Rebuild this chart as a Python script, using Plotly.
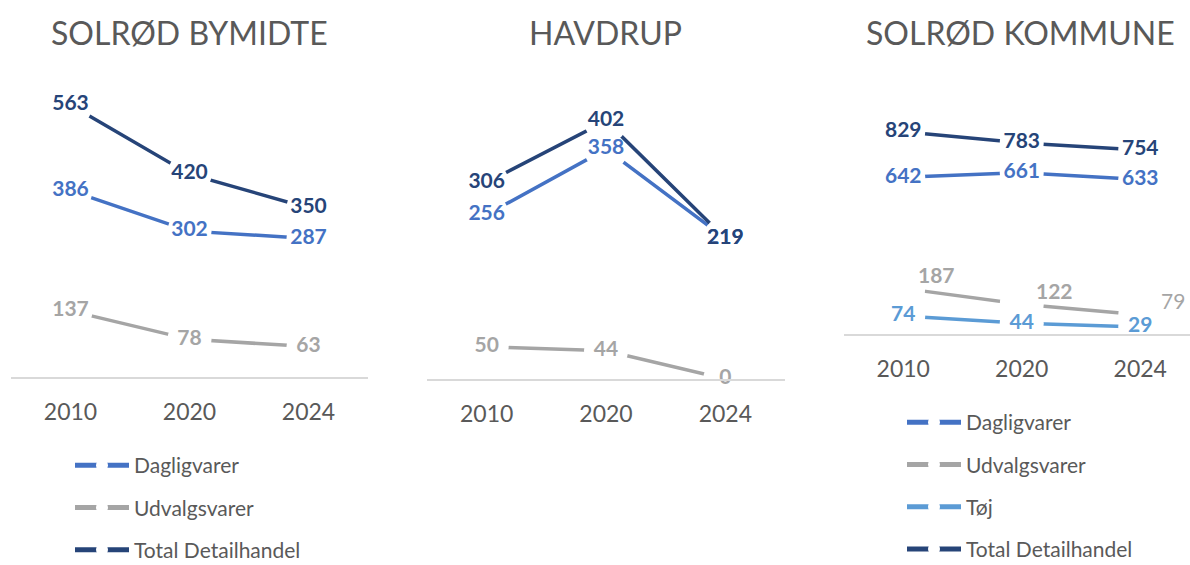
import plotly.graph_objects as go

years = ["2010", "2020", "2024"]

# SOLRØD BYMIDTE
bymidte_daglig = [386, 302, 287]
bymidte_udvalg = [137, 78, 63]
bymidte_total = [563, 420, 350]

# HAVDRUP
havdrup_daglig = [256, 358, 219]
havdrup_udvalg = [50, 44, 0]
havdrup_total = [306, 402, 219]

# SOLRØD KOMMUNE
kommune_daglig = [642, 661, 633]
kommune_udvalg = [187, 122, 79]
kommune_toj = [74, 44, 29]
kommune_total = [829, 783, 754]

titles = ["SOLRØD BYMIDTE", "HAVDRUP", "SOLRØD KOMMUNE"]

C_DAG = "#4472C4"
C_UDV = "#A5A5A5"
C_TOJ = "#5B9BD5"
C_TOT = "#264478"
FONT = "Lato"
GREY_TXT = "#595959"
LBL_SIZE = 21

W, H = 1190, 565


def px(x):
    return x / W


def py(y):
    return 1 - y / H


fig = go.Figure()
text_jobs = []


def add_series(name, vals, color, xa, ya, legend, showlegend, show_text=True):
    fig.add_trace(go.Scatter(
        x=years, y=vals, name=name, mode="lines+markers",
        line=dict(color=color, width=3.5),
        marker=dict(color="white", size=44, line=dict(width=0)),
        xaxis=xa, yaxis=ya, legend=legend, showlegend=showlegend,
        legendgroup=legend + name, cliponaxis=False, hoverinfo="skip",
    ))
    if show_text:
        text_jobs.append((vals, color, xa, ya))


# Panel 1
add_series("Dagligvarer", bymidte_daglig, C_DAG, "x", "y", "legend", True)
add_series("Udvalgsvarer", bymidte_udvalg, C_UDV, "x", "y", "legend", True)
add_series("Total Detailhandel", bymidte_total, C_TOT, "x", "y", "legend", True)
# Panel 2
add_series("Dagligvarer", havdrup_daglig, C_DAG, "x2", "y2", "legend2", False)
add_series("Udvalgsvarer", havdrup_udvalg, C_UDV, "x2", "y2", "legend2", False)
add_series("Total Detailhandel", havdrup_total, C_TOT, "x2", "y2", "legend2", False)
# Panel 3
add_series("Dagligvarer", kommune_daglig, C_DAG, "x3", "y3", "legend3", True)
add_series("Udvalgsvarer", kommune_udvalg, C_UDV, "x3", "y3", "legend3", True, show_text=False)
add_series("Tøj", kommune_toj, C_TOJ, "x3", "y3", "legend3", True)
add_series("Total Detailhandel", kommune_total, C_TOT, "x3", "y3", "legend3", True)

# data labels drawn on top of every line
for vals, color, xa, ya in text_jobs:
    fig.add_trace(go.Scatter(
        x=years, y=vals, mode="text", text=[str(v) for v in vals],
        textposition="middle center",
        textfont=dict(family=FONT, size=LBL_SIZE, color=color, weight="bold"),
        xaxis=xa, yaxis=ya, showlegend=False, cliponaxis=False, hoverinfo="skip",
    ))

# Udvalgsvarer labels in the third panel sit above-right of their points
udv_weights = ["bold", "bold", "normal"]
annotations = []
for i, v in enumerate(kommune_udvalg):
    annotations.append(dict(
        x=i, y=v, xref="x3", yref="y3", text=str(v), showarrow=False,
        xshift=33, yshift=14,
        font=dict(family=FONT, size=LBL_SIZE, color=C_UDV, weight=udv_weights[i]),
    ))

title_x = [190, 605, 1020]
for t, tx in zip(titles, title_x):
    annotations.append(dict(
        x=px(tx), y=py(32), xref="paper", yref="paper", text=t,
        showarrow=False, xanchor="center", yanchor="middle",
        font=dict(family=FONT, size=32, color=GREY_TXT),
    ))

xcommon = dict(type="category", showline=True, linecolor="#D9D9D9", linewidth=1.5,
               ticks="", showgrid=False, zeroline=False, fixedrange=True,
               tickfont=dict(family=FONT, size=23, color=GREY_TXT),
               ticklabelstandoff=14)
ycommon = dict(visible=False, showgrid=False, zeroline=False, fixedrange=True)

legend_common = dict(font=dict(family=FONT, size=21, color=GREY_TXT),
                     itemwidth=54, tracegroupgap=12, itemsizing="constant",
                     bgcolor="rgba(0,0,0,0)", xanchor="left", yanchor="top",
                     orientation="v", maxheight=1000)

fig.update_layout(
    width=W, height=H, margin=dict(l=0, r=0, t=0, b=0, autoexpand=False),
    paper_bgcolor="white", plot_bgcolor="white",
    xaxis=dict(domain=[px(11), px(368)], range=[-0.5, 2.5], anchor="y", **xcommon),
    yaxis=dict(domain=[py(377), py(60)], range=[0, (377 - 60) / 0.483], anchor="x", **ycommon),
    xaxis2=dict(domain=[px(427), px(785)], range=[-0.5, 2.5], anchor="y2", **xcommon),
    yaxis2=dict(domain=[py(379), py(60)], range=[0, (379 - 60) / 0.642], anchor="x2", **ycommon),
    xaxis3=dict(domain=[px(844), 1.0], range=[-0.5, 2.42], anchor="y3", **xcommon),
    yaxis3=dict(domain=[py(334), py(60)], range=[0, (334 - 60) / 0.244], anchor="x3", **ycommon),
    legend=dict(x=px(70), y=py(445), **legend_common),
    legend3=dict(x=px(902), y=py(402), **legend_common),
    annotations=annotations,
    showlegend=True,
)

fig.write_html(
    "out.html",
    config={"displayModeBar": False},
    post_script="document.body.style.margin='0';document.body.style.overflow='hidden';",
)
